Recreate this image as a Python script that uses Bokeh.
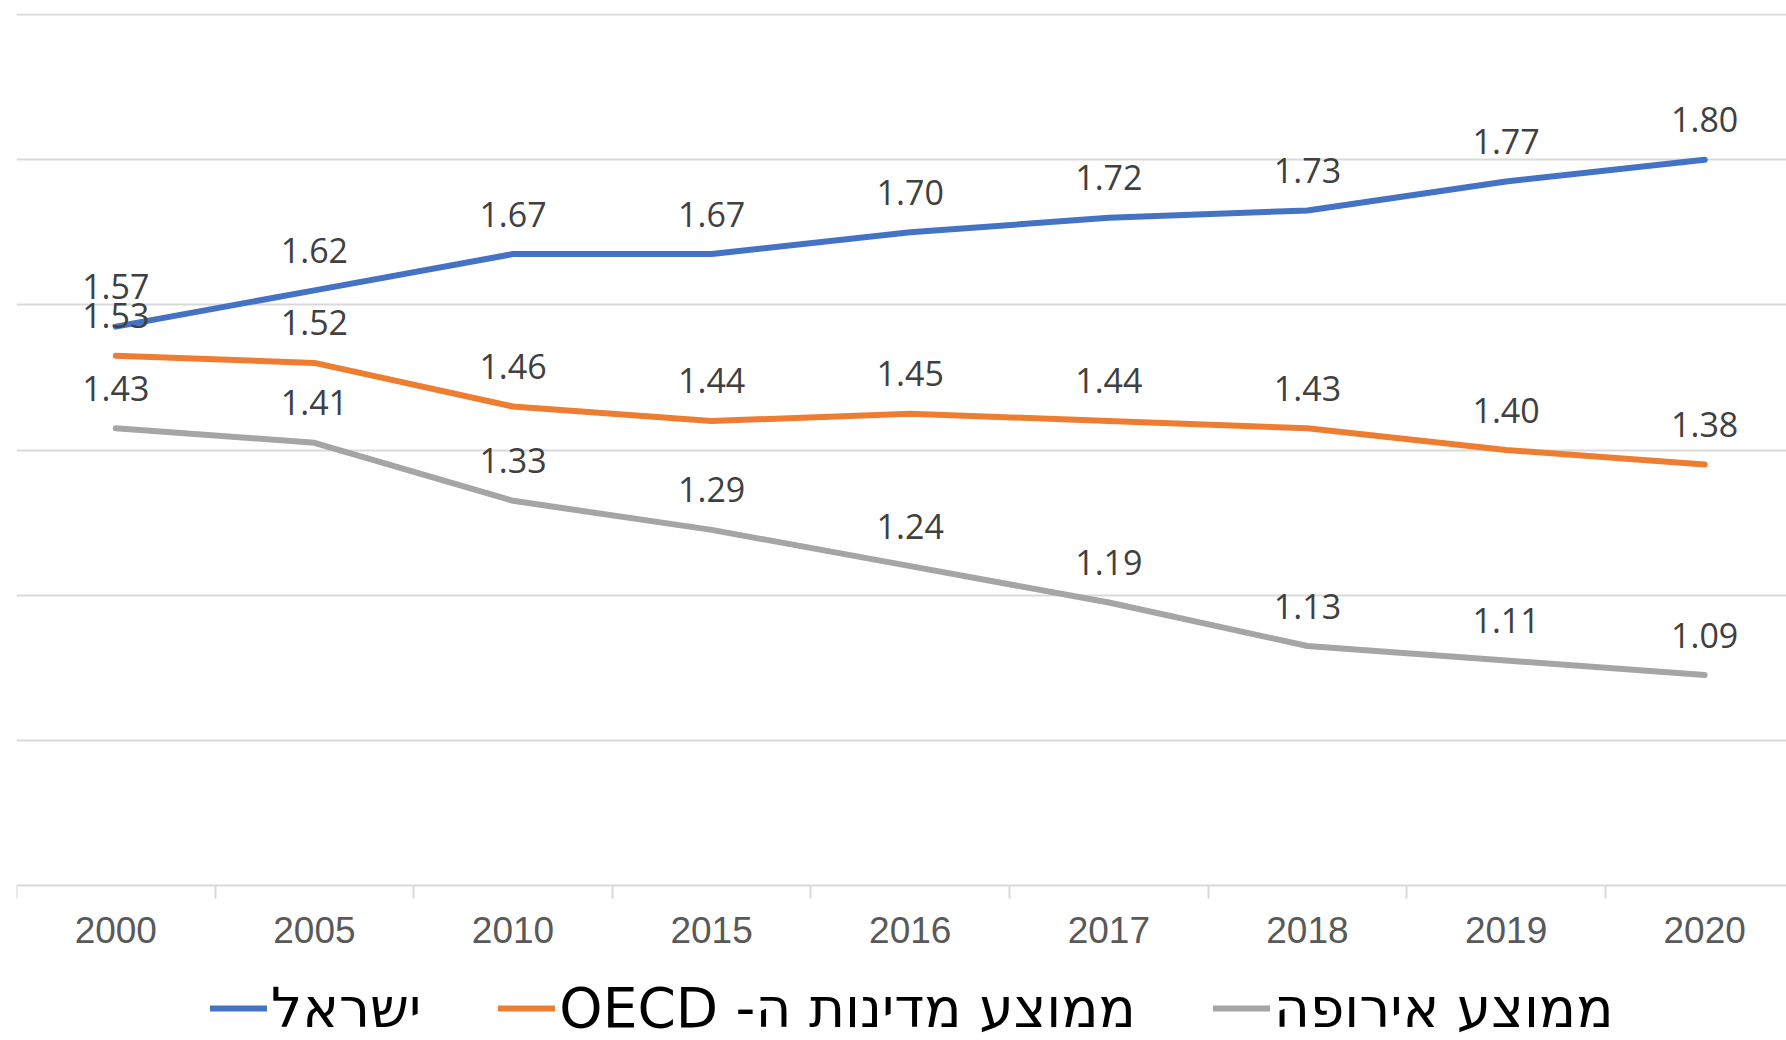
from bokeh.plotting import figure
from bokeh.models import FixedTicker, Range1d, Legend, LegendItem, ColumnDataSource
from bokeh.core.properties import value
from bokeh.embed import file_html
from bokeh.resources import INLINE

years = ["2000", "2005", "2010", "2015", "2016", "2017", "2018", "2019", "2020"]
israel = [1.57, 1.62, 1.67, 1.67, 1.70, 1.72, 1.73, 1.77, 1.80]
oecd = [1.53, 1.52, 1.46, 1.44, 1.45, 1.44, 1.43, 1.40, 1.38]
europe = [1.43, 1.41, 1.33, 1.29, 1.24, 1.19, 1.13, 1.11, 1.09]
series_names = ["ישראל", "\u202bממוצע מדינות ה- OECD\u202c", "ממוצע אירופה"]
series_colors = ["#4472C4", "#ED7D31", "#A5A5A5"]
grid_values = [1.0, 1.2, 1.4, 1.6, 1.8, 2.0]
axis_base = 0.8

idx = list(range(len(years)))

p = figure(width=1786, height=1040, output_backend="svg", toolbar_location=None,
           x_range=Range1d(-0.5, 8.412), y_range=Range1d(0.5865, 2.0014),
           y_axis_location=None, min_border_left=16, min_border_right=0,
           min_border_top=13, min_border_bottom=0)
p.outline_line_color = None
p.background_fill_color = "white"
p.border_fill_color = "white"

p.xgrid.visible = False
p.ygrid.ticker = FixedTicker(ticks=grid_values)
p.ygrid.grid_line_color = "#D9D9D9"
p.ygrid.grid_line_width = 2

xa = p.xaxis[0]
xa.fixed_location = axis_base
xa.ticker = FixedTicker(ticks=idx, minor_ticks=[i - 0.5 for i in idx])
xa.major_label_overrides = {i: y for i, y in zip(idx, years)}
xa.major_tick_line_color = None
xa.major_tick_out = 0
xa.major_tick_in = 0
xa.minor_tick_line_color = "#D9D9D9"
xa.minor_tick_line_width = 2
xa.minor_tick_out = 13
xa.minor_tick_in = 0
xa.axis_line_color = "#D9D9D9"
xa.axis_line_width = 2
xa.major_label_text_font = "Liberation Sans"
xa.major_label_text_font_size = "37px"
xa.major_label_text_color = "#595959"
xa.major_label_standoff = 18

renderers = []
for vals, col in zip([israel, oecd, europe], series_colors):
    src = ColumnDataSource(dict(x=idx, y=vals, t=["%.2f" % v for v in vals]))
    r = p.line("x", "y", source=src, line_color=col, line_width=6, line_cap="round", line_join="round")
    renderers.append(r)
    p.text("x", "y", text="t", source=src, text_align="center", text_baseline="alphabetic",
           y_offset=-40, text_font=value("Open Sans"), text_font_size="34px", text_color="#404040")

legend = Legend(items=[LegendItem(label=n, renderers=[r]) for n, r in zip(series_names, renderers)],
                location=(194, 0), orientation="horizontal", padding=0, margin=0, spacing=77,
                glyph_width=57, glyph_height=40, label_height=40, label_standoff=4,
                label_text_font="DejaVu Sans", label_text_font_size="55px",
                label_text_color="#000000", border_line_color=None,
                background_fill_alpha=0)
p.add_layout(legend, "center")

open("out.html", "w").write(file_html(p, INLINE))
